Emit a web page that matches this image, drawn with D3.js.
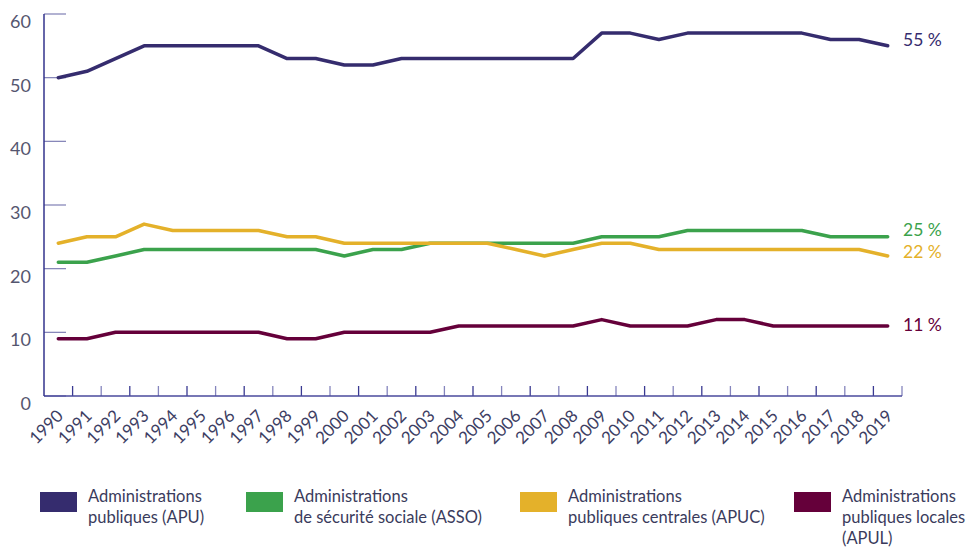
<!DOCTYPE html>
<html>
<head>
<meta charset="utf-8">
<script src="https://cdn.jsdelivr.net/npm/d3@7"></script>
<style>
  body { margin: 0; background: #fff; }
  svg { font-family: Lato, "Noto Sans", sans-serif; }
</style>
</head>
<body>
<svg id="chart" width="976" height="547"></svg>
<script>
// data
const years = d3.range(1990, 2020).map(String);
const apu  = [50,51,53,55,55,55,55,55,53,53,52,52,53,53,53,53,53,53,53,57,57,56,57,57,57,57,57,56,56,55];
const asso = [21,21,22,23,23,23,23,23,23,23,22,23,23,24,24,24,24,24,24,25,25,25,26,26,26,26,26,25,25,25];
const apuc = [24,25,25,27,26,26,26,26,25,25,24,24,24,24,24,24,23,22,23,24,24,23,23,23,23,23,23,23,23,22];
const apul = [9,9,10,10,10,10,10,10,9,9,10,10,10,10,11,11,11,11,11,12,11,11,11,12,12,11,11,11,11,11];
const yTicks = [0, 10, 20, 30, 40, 50, 60];
const seriesNames = ["APU", "ASSO", "APUC", "APUL"];
const endLabels = ["55 %", "25 %", "22 %", "11 %"];
const legendLabels = [
    ["Administrations", "publiques (APU)"],
    ["Administrations", "de sécurité sociale (ASSO)"],
    ["Administrations", "publiques centrales (APUC)"],
    ["Administrations", "publiques locales", "(APUL)"]
];

const colors = { APU: "#352c6e", ASSO: "#3ba24c", APUC: "#e4b12a", APUL: "#65003a" };
const values = { APU: apu, ASSO: asso, APUC: apuc, APUL: apul };

const svg = d3.select("#chart");
const x0 = 44, x1 = 902, yTop = 14, yBottom = 396;

const xBand = d3.scaleBand().domain(years).range([x0, x1]);
const xPos = d => xBand(d) + xBand.bandwidth() / 2;
const y = d3.scaleLinear().domain([0, 60]).range([yBottom, yTop]);

// ***** AXES *****
const axes = svg.append("g");

// y ticks (lighter, pointing inward)
axes.selectAll("line.ytick").data(yTicks)
    .join("line")
    .attr("class", "ytick")
    .attr("x1", x0).attr("x2", x0 + 22)
    .attr("y1", d => y(d)).attr("y2", d => y(d))
    .style("stroke", "#7f7fb5")
    .style("stroke-width", 1.2);

axes.selectAll("text.ylab").data(yTicks)
    .join("text")
    .attr("class", "ylab")
    .attr("x", 31)
    .attr("y", d => y(d) + 14)
    .attr("text-anchor", "end")
    .style("font-size", "18px")
    .style("fill", "#55566f")
    .text(d => d);

// x ticks at band boundaries
axes.selectAll("line.xtick").data(years.slice(1).concat(["end"]))
    .join("line")
    .attr("class", "xtick")
    .attr("x1", (d, i) => x0 + (i + 1) * xBand.bandwidth())
    .attr("x2", (d, i) => x0 + (i + 1) * xBand.bandwidth())
    .attr("y1", yBottom - 10).attr("y2", yBottom)
    .style("stroke", (d, i) => i % 2 ? "#8585bd" : "#3a3a92")
    .style("stroke-width", 1.3);

axes.append("line")
    .attr("x1", x0).attr("x2", x1)
    .attr("y1", yBottom).attr("y2", yBottom)
    .style("stroke", "#4a4a9c")
    .style("stroke-width", 1.3);

axes.append("line")
    .attr("x1", x0).attr("x2", x0)
    .attr("y1", yTop).attr("y2", yBottom)
    .style("stroke", "#33338c")
    .style("stroke-width", 1.5);

axes.selectAll("text.xlab").data(years)
    .join("text")
    .attr("class", "xlab")
    .attr("transform", d => `translate(${xPos(d) + 6},${yBottom + 21}) rotate(-45)`)
    .attr("text-anchor", "end")
    .style("font-size", "17px")
    .style("fill", "#3d3e63")
    .text(d => d);

// ***** LINES *****
const line = d3.line()
    .x((d, i) => xPos(years[i]))
    .y(d => y(d));

svg.append("g").selectAll("path.series").data(seriesNames)
    .join("path")
    .attr("class", "series")
    .attr("d", s => line(values[s]))
    .style("fill", "none")
    .style("stroke", s => colors[s])
    .style("stroke-width", 3.5)
    .style("stroke-linejoin", "round")
    .style("stroke-linecap", "round");

// end labels
const labelShift = { APU: 0, ASSO: -1, APUC: 2, APUL: 5 };
svg.append("g").selectAll("text.endlab").data(seriesNames)
    .join("text")
    .attr("class", "endlab")
    .attr("x", 903)
    .attr("y", (s, i) => y(values[s][values[s].length - 1]) + labelShift[s])
    .style("font-size", "17.5px")
    .style("fill", s => colors[s])
    .text((s, i) => endLabels[i]);

// ***** LEGEND *****
const legendX = [40, 246, 520, 794];
const legend = svg.append("g");
seriesNames.forEach((s, i) => {
    legend.append("rect")
        .attr("x", legendX[i])
        .attr("y", 492)
        .attr("width", 37)
        .attr("height", 20)
        .style("fill", colors[s]);
    const t = legend.append("text")
        .attr("x", legendX[i] + 48)
        .attr("y", 502)
        .style("font-size", "16.5px")
        .style("fill", "#3a3b5c");
    legendLabels[i].forEach((l, j) => {
        t.append("tspan")
            .attr("x", legendX[i] + 48)
            .attr("dy", j === 0 ? 0 : 21)
            .text(l);
    });
});
</script>
</body>
</html>
